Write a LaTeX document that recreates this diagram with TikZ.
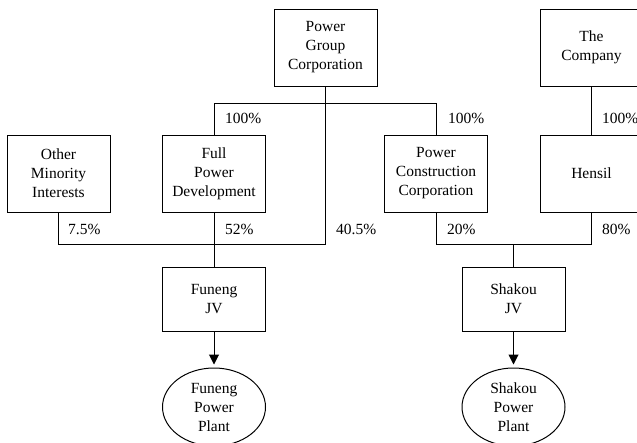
\documentclass[tikz,border=0pt]{standalone}
\usepackage{fontspec}
\setmainfont{Liberation Serif}
\usetikzlibrary{arrows.meta,shapes.geometric}
\newcommand{\orgfont}{\fontsize{15.5}{19}\selectfont}
\tikzset{
  entity/.style={draw, line width=1pt, minimum width=103pt, minimum height=77pt,
    inner sep=0pt, align=center, font=\orgfont},
  jvbox/.style={entity, minimum height=64pt},
  plant/.style={draw, ellipse, line width=1pt, minimum width=103pt, minimum height=78pt,
    inner sep=0pt, align=center, font=\orgfont},
  share/.style={anchor=west, inner sep=0pt, font=\orgfont},
  link/.style={line width=1pt},
  flow/.style={link, -{Triangle[length=10pt,width=10pt]}, shorten >=3pt},
}

\begin{document}
\begin{tikzpicture}[x=1pt,y=-1pt]
  \clip (0,0) rectangle (637,442);

  % Owners
  \node[entity] (pgc) at (325.5,47.5) {Power\\Group\\Corporation};
  \node[entity] (comp) at (591.5,47.5) {The\\Company};

  % Shareholders of the JVs
  \node[entity] (omi) at (58.5,173.5) {Other\\Minority\\Interests};
  \node[entity] (fpd) at (214,173.5) {Full\\Power\\Development};
  \node[entity] (pcc) at (436,173.5) {Power\\Construction\\Corporation};
  \node[entity] (hensil) at (591.5,173.5) {Hensil};

  % Joint ventures and plants
  \node[jvbox] (fjv) at (214,299) {Funeng\\JV};
  \node[jvbox] (sjv) at (513.5,299) {Shakou\\JV};
  \node[plant] (fpp) at (214,407) {Funeng\\Power\\Plant};
  \node[plant] (spp) at (513.5,407) {Shakou\\Power\\Plant};

  % Bus lines
  \coordinate (topbus) at (0,103);
  \coordinate (lowbus) at (0,244);

  \draw[link] (fpd.north) -- (fpd.north |- topbus) -- (pcc.north |- topbus) -- (pcc.north);
  \draw[link] (pgc.south) -- (pgc.south |- lowbus);
  \draw[link] (comp.south) -- (hensil.north);
  \draw[link] (omi.south) -- (omi.south |- lowbus) -- (pgc.south |- lowbus);
  \draw[link] (fpd.south) -- (fjv.north);
  \draw[link] (pcc.south) -- (pcc.south |- lowbus) -- (hensil.south |- lowbus) -- (hensil.south);
  \draw[link] (sjv.north) -- (sjv.north |- lowbus);
  \draw[flow] (fjv.south) -- (fpp.north);
  \draw[flow] (sjv.south) -- (spp.north);

  % Holdings
  \node[share] (s1) at (225,118) {100\%};
  \node[share] (s2) at (448,118) {100\%};
  \node[share] (s3) at (602,118) {100\%};
  \node[share] (s4) at (68,229) {7.5\%};
  \node[share] (s5) at (225,229) {52\%};
  \node[share] (s6) at (336,229) {40.5\%};
  \node[share] (s7) at (447,229) {20\%};
  \node[share] (s8) at (602,229) {80\%};
\end{tikzpicture}
\end{document}
